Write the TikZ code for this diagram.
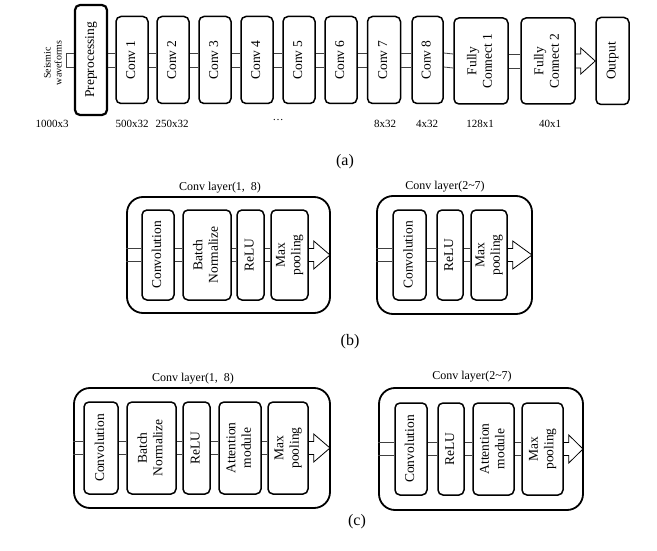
\documentclass[tikz,border=0pt]{standalone}
\usepackage{fontspec}
\setmainfont{Liberation Serif}
\usepackage{graphicx}
\usepackage{tikz}
\tikzset{
  layer/.style={draw, line width=1.5pt, rounded corners=5pt, fill=white, inner sep=0pt,
    font=\fontsize{13.5}{15.5}\selectfont},
  prebox/.style={layer, line width=2.2pt},
  group/.style={draw, line width=1.8pt, rounded corners=16pt, inner sep=0pt},
  band/.style={line width=0.8pt, black!75},
  hollow/.style={line width=0.8pt, black},
  dim/.style={font=\fontsize{11}{13}\selectfont},
  title/.style={font=\fontsize{12}{14}\selectfont},
  panel/.style={font=\fontsize{16}{18}\selectfont},
}
\newcommand{\vt}[1]{\rotatebox{90}{\begin{tabular}{@{}c@{}}#1\end{tabular}}}
% hollow block arrow: node, tip, half band, extra half head
\newcommand{\outarrow}[4]{%
  \draw[hollow] ([yshift=#3]#1.east) -- ++(5,0) -- ++(0,-#4) -- (#2)
    -- ([xshift=5pt,yshift=-#3-#4]#1.east) -- ++(0,-#4) -- ([yshift=-#3]#1.east);}

\begin{document}
\begin{tikzpicture}[x=1pt,y=-1pt]
\useasboundingbox (0,0) rectangle (657,551);

% (a) whole network
\node[font=\fontsize{10}{11}\selectfont] (wave) at (54,63) {\vt{Seismic\\waveforms}};
\coordinate (src) at (66,60);
\node[prebox, minimum width=32, minimum height=110] (pre) at (91,60) {\vt{Preprocessing}};
\node[layer, minimum width=32, minimum height=87] (conv1) at (132,60) {\vt{Conv 1}};
\node[layer, minimum width=32, minimum height=87] (conv2) at (173,60) {\vt{Conv 2}};
\node[layer, minimum width=32, minimum height=87] (conv3) at (215,60) {\vt{Conv 3}};
\node[layer, minimum width=32, minimum height=87] (conv4) at (257,60) {\vt{Conv 4}};
\node[layer, minimum width=32, minimum height=87] (conv5) at (299,60) {\vt{Conv 5}};
\node[layer, minimum width=32, minimum height=87] (conv6) at (341,60) {\vt{Conv 6}};
\node[layer, minimum width=33, minimum height=87] (conv7) at (384,60) {\vt{Conv 7}};
\node[layer, minimum width=31, minimum height=87] (conv8) at (427.5,60) {\vt{Conv 8}};
\node[layer, minimum width=54, minimum height=86] (fc1) at (481,61) {\vt{Fully\\Connect 1}};
\node[layer, minimum width=54, minimum height=86] (fc2) at (548,61) {\vt{Fully\\Connect 2}};
\node[layer, minimum width=33, minimum height=87] (out) at (612.5,61) {\vt{Output}};
\draw[band] ([yshift=7]pre.west) -- ([yshift=7]src) -- ([yshift=-7]src) -- ([yshift=-7]pre.west);
\foreach \a/\b in {pre/conv1,conv1/conv2,conv2/conv3,conv3/conv4,conv4/conv5,conv5/conv6,conv6/conv7,conv7/conv8,conv8/fc1,fc1/fc2}
  \draw[band] ([yshift=7]\a.east) -- ([yshift=7]\b.west) ([yshift=-7]\a.east) -- ([yshift=-7]\b.west);
\outarrow{fc2}{out.west}{7}{6}
\node[dim] (d0) at (52,124) {1000x3};
\node[dim] (d1) at (132,124) {500x32};
\node[dim] (d2) at (172,124) {250x32};
\node[dim] (d3) at (278,120) {\dots};
\node[dim] (d7) at (385,124) {8x32};
\node[dim] (d8) at (427,124) {4x32};
\node[dim] (d9) at (480,124) {128x1};
\node[dim] (d10) at (550,124) {40x1};
\node[panel] (pa) at (345,162) {(a)};

% (b) conv layers
\node[title] (b1title) at (220,188) {Conv layer(1,~~8)};
\node[group, minimum width=203, minimum height=116] (b1box) at (228.5,255) {};
\node[layer, minimum width=32, minimum height=90] (b1conv) at (158,255) {\vt{Convolution}};
\node[layer, minimum width=48, minimum height=90] (b1bn) at (207,255) {\vt{Batch\\Normalize}};
\node[layer, minimum width=27, minimum height=90] (b1relu) at (250.5,255) {\vt{ReLU}};
\node[layer, minimum width=37, minimum height=90] (b1max) at (289.5,255) {\vt{Max\\pooling}};
\coordinate (b1tip) at (330,255);

\node[title] (b2title) at (445,187) {Conv layer(2\textasciitilde 7)};
\node[group, minimum width=155, minimum height=118] (b2box) at (454.5,255) {};
\node[layer, minimum width=33, minimum height=90] (b2conv) at (409.5,255) {\vt{Convolution}};
\node[layer, minimum width=26, minimum height=90] (b2relu) at (450,255) {\vt{ReLU}};
\node[layer, minimum width=36, minimum height=90] (b2max) at (489,255) {\vt{Max\\pooling}};
\coordinate (b2tip) at (532,255);
\node[panel] (pb) at (350,342) {(b)};

% (c) conv layers with attention
\node[title] (c1title) at (193,379) {Conv layer(1,~~8)};
\node[group, minimum width=256, minimum height=120] (c1box) at (202,448) {};
\node[layer, minimum width=34, minimum height=92] (c1conv) at (101,448) {\vt{Convolution}};
\node[layer, minimum width=49, minimum height=92] (c1bn) at (151.5,448) {\vt{Batch\\Normalize}};
\node[layer, minimum width=27, minimum height=92] (c1relu) at (196.5,448) {\vt{ReLU}};
\node[layer, minimum width=42, minimum height=92] (c1att) at (240,448) {\vt{Attention\\module}};
\node[layer, minimum width=40, minimum height=92] (c1max) at (288,448) {\vt{Max\\pooling}};
\coordinate (c1tip) at (330,448);

\node[title] (c2title) at (472,377) {Conv layer(2\textasciitilde 7)};
\node[group, minimum width=204, minimum height=122] (c2box) at (481,449) {};
\node[layer, minimum width=32, minimum height=92] (c2conv) at (411,449) {\vt{Convolution}};
\node[layer, minimum width=26, minimum height=92] (c2relu) at (451,449) {\vt{ReLU}};
\node[layer, minimum width=41, minimum height=92] (c2att) at (493.5,449) {\vt{Attention\\module}};
\node[layer, minimum width=41, minimum height=92] (c2max) at (542.5,449) {\vt{Max\\pooling}};
\coordinate (c2tip) at (583,449);
\node[panel] (pc) at (357,522) {(c)};

% bands and arrows of (b) and (c)
\foreach \a/\b in {b1box/b1conv,b2box/b2conv,c1box/c1conv,c2box/c2conv}
  \draw[band] ([yshift=6.5]\a.west) -- ([yshift=6.5]\b.west) ([yshift=-6.5]\a.west) -- ([yshift=-6.5]\b.west);
\foreach \a/\b in {b1conv/b1bn,b1bn/b1relu,b1relu/b1max,b2conv/b2relu,b2relu/b2max,c1conv/c1bn,c1bn/c1relu,c1relu/c1att,c1att/c1max,c2conv/c2relu,c2relu/c2att,c2att/c2max}
  \draw[band] ([yshift=6.5]\a.east) -- ([yshift=6.5]\b.west) ([yshift=-6.5]\a.east) -- ([yshift=-6.5]\b.west);
\outarrow{b1max}{b1tip}{6.5}{7.5}
\outarrow{b2max}{b2tip}{6.5}{7.5}
\outarrow{c1max}{c1tip}{6.5}{7.5}
\outarrow{c2max}{c2tip}{6.5}{7.5}
\end{tikzpicture}
\end{document}
